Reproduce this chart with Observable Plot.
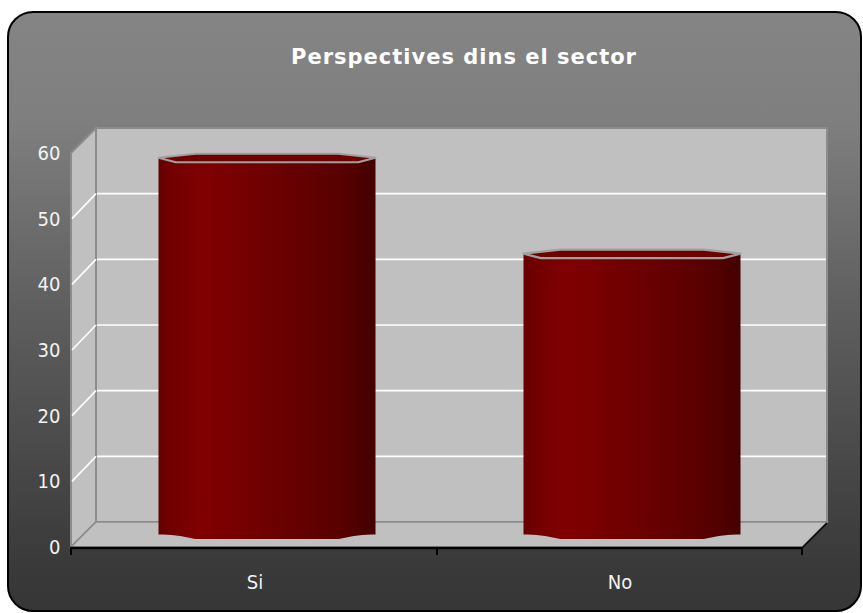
<!DOCTYPE html>
<html>
<head>
<meta charset="utf-8">
<script src="https://cdn.jsdelivr.net/npm/d3@7"></script>
<script src="https://cdn.jsdelivr.net/npm/@observablehq/plot@0.6"></script>
<style>
  html, body { margin: 0; padding: 0; background: #ffffff; }
  #wrap { position: relative; width: 863px; height: 613px; overflow: hidden; }
  #bg {
    position: absolute; left: 7px; top: 11px; width: 851px; height: 597px;
    border: 2px solid #000; border-radius: 26px;
    background: linear-gradient(to bottom, #848484 0%, #7f7f7f 18%, #5e5e5e 50%, #3a3a3a 92%, #363636 100%);
  }
  #title {
    position: absolute; top: 47px; left: 0; width: 928px; text-align: center;
    font-family: "DejaVu Sans", sans-serif; font-weight: bold; font-size: 21px;
    line-height: 21px; letter-spacing: 1px; color: #ffffff;
  }
  #chart { position: absolute; left: 0; top: 0; }
</style>
</head>
<body>
<div id="wrap">
  <div id="bg"></div>
  <div id="title">Perspectives dins el sector</div>
  <div id="chart"></div>
</div>
<script>
// ---- data ----
const categories = ["Si", "No"];
const values = [57.3, 42.7];
const yTicks = [0, 10, 20, 30, 40, 50, 60];

const data = categories.map((c, i) => ({cat: c, value: values[i]}));

// ---- style constants ----
const DEPTH_X = 25, DEPTH_Y = -25;       // back-wall offset
const BAR_DX = 12.5, BAR_DY = -12.5;     // bars sit mid-depth
const WALL = "#c0c0c0", EDGE = "#8c8c8c";

const svgNS = "http://www.w3.org/2000/svg";
function el(name, attrs) {
  const e = document.createElementNS(svgNS, name);
  for (const k in attrs) e.setAttribute(k, attrs[k]);
  return e;
}

// gradient defs
function defsMark() {
  const defs = el("defs", {});
  const g = el("linearGradient", {id: "barGrad", x1: "0", x2: "1", y1: "0", y2: "0"});
  [[0, "#660000"], [0.06, "#720000"], [0.2, "#800000"], [0.32, "#7a0000"],
   [0.5, "#6e0000"], [0.7, "#620000"], [0.88, "#550000"], [1, "#440000"]]
    .forEach(([o, c]) => g.appendChild(el("stop", {offset: o, "stop-color": c})));
  defs.appendChild(g);
  return defs;
}

// 3D walls, floor and gridlines, drawn from the y scale
function wallMark(index, scales, values, dims) {
  const y = scales.y;
  const L = dims.marginLeft, R = dims.width - dims.marginRight;
  const y0 = y(yTicks[0]), yT = y(yTicks[yTicks.length - 1]);
  const g = el("g", {});
  const pts = a => a.map(p => p.join(",")).join(" ");
  g.appendChild(el("rect", {x: L + DEPTH_X, y: yT + DEPTH_Y, width: R - L, height: y0 - yT,
    fill: WALL, stroke: EDGE, "stroke-width": 2}));
  g.appendChild(el("polygon", {points: pts([[L, yT], [L + DEPTH_X, yT + DEPTH_Y], [L + DEPTH_X, y0 + DEPTH_Y], [L, y0]]),
    fill: WALL, stroke: EDGE, "stroke-width": 2}));
  g.appendChild(el("polygon", {points: pts([[L, y0], [L + DEPTH_X, y0 + DEPTH_Y], [R + DEPTH_X, y0 + DEPTH_Y], [R, y0]]),
    fill: WALL, stroke: EDGE, "stroke-width": 1.5}));
  for (const v of yTicks.slice(1, -1)) {
    const yv = y(v);
    g.appendChild(el("line", {x1: L + DEPTH_X + 1, x2: R + DEPTH_X - 1, y1: yv + DEPTH_Y, y2: yv + DEPTH_Y,
      stroke: "#ffffff", "stroke-width": 1.6}));
    g.appendChild(el("line", {x1: L + 1, x2: L + DEPTH_X, y1: yv, y2: yv + DEPTH_Y,
      stroke: "#ffffff", "stroke-width": 1.6}));
  }
  g.appendChild(el("line", {x1: L - 1, x2: R, y1: y0 + 1, y2: y0 + 1, stroke: "#000", "stroke-width": 2.5}));
  g.appendChild(el("line", {x1: R, x2: R + DEPTH_X, y1: y0 + 1, y2: y0 + 1 + DEPTH_Y, stroke: "#000", "stroke-width": 1.5}));
  const sx = scales.x;
  const bw = typeof sx.bandwidth === "function" ? sx.bandwidth() : 0;
  const mid = (sx(categories[0]) + bw + sx(categories[1])) / 2;
  for (const xt of [L, mid, R]) {
    g.appendChild(el("line", {x1: xt, x2: xt, y1: y0, y2: y0 + 8, stroke: "#000", "stroke-width": 2}));
  }
  return g;
}

// cylinder top rim and rounded bottom for each bar
function capMark(index, scales, values, dims) {
  const sx = scales.x, y = scales.y;
  const bw = typeof sx.bandwidth === "function" ? sx.bandwidth() : 217;
  const g = el("g", {});
  for (const d of data) {
    const x0 = sx(d.cat) + BAR_DX, x1 = x0 + bw, w = bw;
    const yv = y(d.value) + BAR_DY;
    const yb = y(0) + BAR_DY;
    const a = x0 + 0.17 * w, b = x1 - 0.17 * w;
    g.appendChild(el("path", {d: `M${x0},${yb - 1} L${x0 + 0.1 * w},${yb + 1.5} L${a},${yb + 4.5} L${b},${yb + 4.5} L${x1 - 0.1 * w},${yb + 1.5} L${x1},${yb - 1} Z`,
      fill: "url(#barGrad)"}));
    g.appendChild(el("path", {d: `M${x0},${yv - 0.5} L${a},${yv - 4.5} L${b},${yv - 4.5} L${x1},${yv - 0.5} L${x1 - 0.08 * w},${yv + 4} L${x0 + 0.08 * w},${yv + 4} Z`,
      fill: "#6e0000", stroke: "#a0a0a0", "stroke-width": 2.2, "stroke-linejoin": "round"}));
  }
  return g;
}

const chart = Plot.plot({
  width: 863,
  height: 613,
  marginLeft: 71,
  marginRight: 61,
  marginTop: 153,
  marginBottom: 66,
  style: {background: "transparent", overflow: "visible", color: "#f2f2f2",
          fontFamily: "'DejaVu Sans Condensed', 'DejaVu Sans', sans-serif", fontSize: "20px"},
  x: {domain: categories, paddingInner: 0.406, paddingOuter: 0.203, label: null, tickSize: 0, tickPadding: 27},
  y: {domain: [0, 60], ticks: yTicks, label: null, tickSize: 0, tickPadding: 11},
  marks: [
    defsMark,
    wallMark,
    Plot.barY(data, {x: "cat", y: "value", fill: "url(#barGrad)", dx: BAR_DX, dy: BAR_DY}),
    capMark
  ]
});
document.getElementById("chart").appendChild(chart);
</script>
</body>
</html>
